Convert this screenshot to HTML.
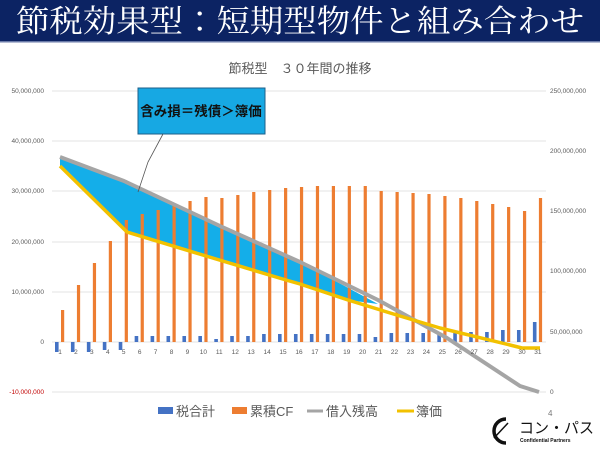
<!DOCTYPE html>
<html><head><meta charset="utf-8"><style>
body{margin:0;width:600px;height:450px;background:#fff;overflow:hidden;font-family:"Liberation Sans","Noto Sans CJK JP",sans-serif}
</style></head><body>
<svg width="600" height="450" xmlns="http://www.w3.org/2000/svg" style="position:absolute;left:0;top:0">
<rect x="0" y="0" width="600" height="41" fill="#0c2363"/>
<rect x="0" y="41" width="600" height="1.5" fill="#6a7aa8"/>
<text x="300" y="32" text-anchor="middle" style="font-family:'Noto Serif CJK JP','Noto Serif CJK SC',serif" font-size="31" fill="#fff" textLength="568" lengthAdjust="spacingAndGlyphs">節税効果型：短期型物件と組み合わせ</text>
<text x="300" y="73" text-anchor="middle" font-size="13" fill="#595959">節税型　３０年間の推移</text>
<g stroke="#e3e3e3" stroke-width="1">
<line x1="52" x2="546" y1="91" y2="91"/><line x1="52" x2="546" y1="141" y2="141"/><line x1="52" x2="546" y1="191" y2="191"/><line x1="52" x2="546" y1="242" y2="242"/><line x1="52" x2="546" y1="292" y2="292"/><line x1="52" x2="546" y1="342" y2="342"/><line x1="52" x2="546" y1="392" y2="392"/>
</g>
<g font-size="6.5" fill="#595959" text-anchor="end">
<text x="44" y="93">50,000,000</text><text x="44" y="143">40,000,000</text><text x="44" y="193">30,000,000</text><text x="44" y="244">20,000,000</text><text x="44" y="294">10,000,000</text><text x="44" y="344">0</text><text x="44" y="394" fill="#c00000">-10,000,000</text>
</g>
<g font-size="6.5" fill="#595959">
<text x="550" y="93">250,000,000</text><text x="550" y="153">200,000,000</text><text x="550" y="213">150,000,000</text><text x="550" y="273">100,000,000</text><text x="550" y="334">50,000,000</text><text x="550" y="394">0</text>
</g>
<path d="M60,157 L124,181 L220,226 L300,262 L378,304 L348,300 L300,283 L286,280 L206,256 L127,232 L60,166 Z" fill="#14aee9"/>
<g id="bars"></g>
<polyline points="60,157 124,181 220,226 300,262 378,300 447,338 520,386 539,392" fill="none" stroke="#a5a5a5" stroke-width="4" stroke-linejoin="round"/>
<polyline points="60,166 127,232 206,256 286,280 300,284 348,300 400,316 440,328 510,345 522,348 540,348" fill="none" stroke="#f2c100" stroke-width="3.5" stroke-linejoin="round"/>
<g id="xl" font-size="6.5" fill="#595959" text-anchor="middle"></g>
<rect x="138" y="88" width="127" height="46" fill="#17a8e3" stroke="#1d5f8a" stroke-width="1"/>
<text x="201" y="116" text-anchor="middle" font-size="13.5" font-weight="bold" fill="#111">含み損＝残債＞簿価</text>
<polyline points="163,134 148,162 138,192" fill="none" stroke="#555" stroke-width="0.8"/>
<rect x="158" y="407" width="15" height="7" fill="#4472c4"/>
<text x="176" y="416" font-size="13" fill="#595959">税合計</text>
<rect x="232" y="407" width="15" height="7" fill="#ed7d31"/>
<text x="250" y="416" font-size="13" fill="#595959">累積CF</text>
<line x1="307" x2="323" y1="411" y2="411" stroke="#a5a5a5" stroke-width="3"/>
<text x="326" y="416" font-size="13" fill="#595959">借入残高</text>
<line x1="397" x2="414" y1="411" y2="411" stroke="#f2c100" stroke-width="3"/>
<text x="416" y="416" font-size="13" fill="#595959">簿価</text>
<text x="548" y="416" font-size="8" fill="#777">4</text>
<path d="M506,419 A12,12 0 1 0 506,443" fill="none" stroke="#111" stroke-width="3.5"/>
<line x1="494" y1="438" x2="508" y2="423" stroke="#111" stroke-width="1.5"/>
<text x="519" y="433" font-size="15" fill="#111">コン・パス</text>
<text x="520" y="442" font-size="5" font-weight="bold" fill="#111">Confidential Partners</text>
</svg>
<script>
var o=[310,285,263,241,220,214,210,204,201,197,198,195,192,190,188,187,186,186,186,186,191,192,193,194,196,198,201,204,207,211,198];
var b=[352,352,352,350,350,336,336,336,336,336,339,336,336,334,334,334,334,334,334,334,337,333,333,333,333,332,332,332,330,330,322];
var s='',l='';
for(var i=0;i<31;i++){var c=60+15.93*i;
s+='<rect x="'+(c+1)+'" y="'+o[i]+'" width="3.2" height="'+(342-o[i])+'" fill="#ed7d31"/>';
var t=Math.min(b[i],342),h=Math.abs(b[i]-342);
s+='<rect x="'+(c-5)+'" y="'+t+'" width="3.6" height="'+h+'" fill="#4472c4"/>';
l+='<text x="'+c+'" y="354">'+(i+1)+'</text>';}
document.getElementById('bars').innerHTML=s;document.getElementById('xl').innerHTML=l;
</script>
</body></html>
